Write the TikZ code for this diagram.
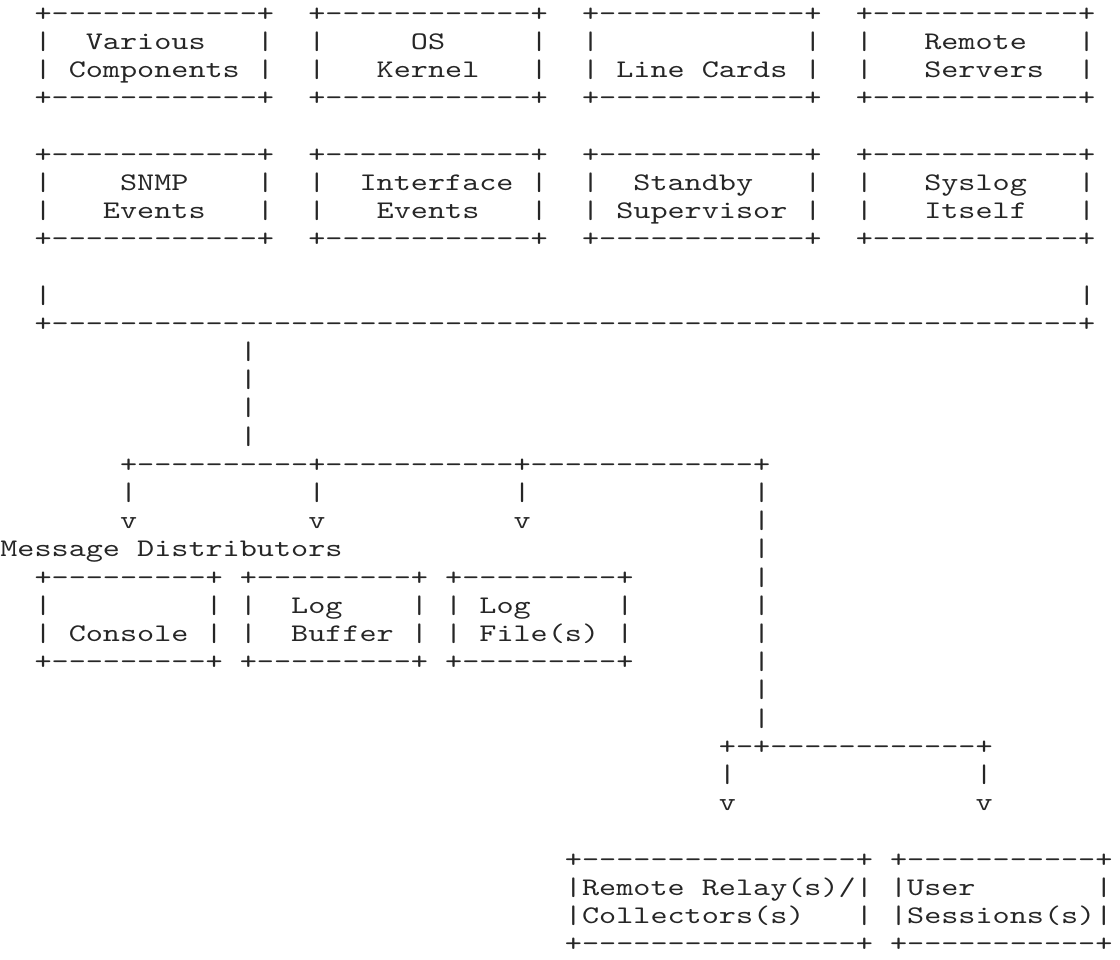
\documentclass[tikz,border=0pt]{standalone}
\usepackage{fontspec}
\usepackage{tikz}

% typewriter face for the ascii drawing
\newfontfamily\asciifont[FakeStretch=1.286,WordSpace={1,0,0}]{lmmono10-regular.otf}
\newcommand\dashes[1]{\foreach\x in {1,...,#1}{-\kern0pt}}
\newcommand\lines[1]{\vtop{\baselineskip=21.15pt\lineskiplimit=-100pt%
  \let\\\cr\halign{##\hfil\cr#1\crcr}}}

\tikzset{
  ascii/.style={font=\asciifont\fontsize{19pt}{21.15pt}\selectfont,
    anchor=base west, inner sep=0pt, outer sep=0pt, text=black!85}
}

\begin{document}
\begin{tikzpicture}[x=12.83pt,y=-21.15pt]
    \useasboundingbox (0,0) rectangle (65.46,34.007);
    \begin{scope}[shift={(0.02,0.745)}]

    % ================= MESSAGE SOURCES =================
    \node[ascii] (various) at (2,0) {\lines{+\dashes{12}+\\|~~Various~~~|\\|~Components~|\\+\dashes{12}+}};
    \node[ascii] (kernel) at (18,0) {\lines{+\dashes{12}+\\|~~~~~OS~~~~~|\\|~~~Kernel~~~|\\+\dashes{12}+}};
    \node[ascii] (linecards) at (34,0) {\lines{+\dashes{12}+\\|~~~~~~~~~~~~|\\|~Line~Cards~|\\+\dashes{12}+}};
    \node[ascii] (servers) at (50,0) {\lines{+\dashes{12}+\\|~~~Remote~~~|\\|~~~Servers~~|\\+\dashes{12}+}};

    \node[ascii] (snmp) at (2,5) {\lines{+\dashes{12}+\\|~~~~SNMP~~~~|\\|~~~Events~~~|\\+\dashes{12}+}};
    \node[ascii] (iface) at (18,5) {\lines{+\dashes{12}+\\|~~Interface~|\\|~~~Events~~~|\\+\dashes{12}+}};
    \node[ascii] (standby) at (34,5) {\lines{+\dashes{12}+\\|~~Standby~~~|\\|~Supervisor~|\\+\dashes{12}+}};
    \node[ascii] (syslog) at (50,5) {\lines{+\dashes{12}+\\|~~~Syslog~~~|\\|~~~Itself~~~|\\+\dashes{12}+}};

    % collecting bus
    \node[ascii] (busleft) at (2,10) {|};
    \node[ascii] (busright) at (63,10) {|};
    \node[ascii] (bus) at (2,11) {+\dashes{60}+};
    \node[ascii] (trunk) at (14,12) {\lines{|\\|\\|\\|}};

    % ================= DISTRIBUTION =================
    \node[ascii] (fork) at (7,16) {+\dashes{10}+\dashes{11}+\dashes{13}+};
    \node[ascii] (toconsole) at (7,17) {\lines{|\\v}};
    \node[ascii] (tobuffer) at (18,17) {\lines{|\\v}};
    \node[ascii] (tofile) at (30,17) {\lines{|\\v}};
    \node[ascii] (toremote) at (44,17) {\lines{|\\|\\|\\|\\|\\|\\|\\|\\|}};

    \node[ascii] (distributors) at (0,19) {Message Distributors};
    \node[ascii] (console) at (2,20) {\lines{+\dashes{9}+\\|~~~~~~~~~|\\|~Console~|\\+\dashes{9}+}};
    \node[ascii] (logbuffer) at (14,20) {\lines{+\dashes{9}+\\|~~Log~~~~|\\|~~Buffer~|\\+\dashes{9}+}};
    \node[ascii] (logfile) at (26,20) {\lines{+\dashes{9}+\\|~Log~~~~~|\\|~File(s)~|\\+\dashes{9}+}};

    % remote side
    \node[ascii] (split) at (42,26) {+\dashes{1}+\dashes{12}+};
    \node[ascii] (torelay) at (42,27) {\lines{|\\v}};
    \node[ascii] (tosessions) at (57,27) {\lines{|\\v}};

    \node[ascii] (relay) at (33,30) {\lines{+\dashes{16}+\\|Remote~Relay(s)/|\\|Collectors(s)~~~|\\+\dashes{16}+}};
    \node[ascii] (sessions) at (52,30) {\lines{+\dashes{11}+\\|User~~~~~~~|\\|Sessions(s)|\\+\dashes{11}+}};

    \end{scope}
\end{tikzpicture}
\end{document}
